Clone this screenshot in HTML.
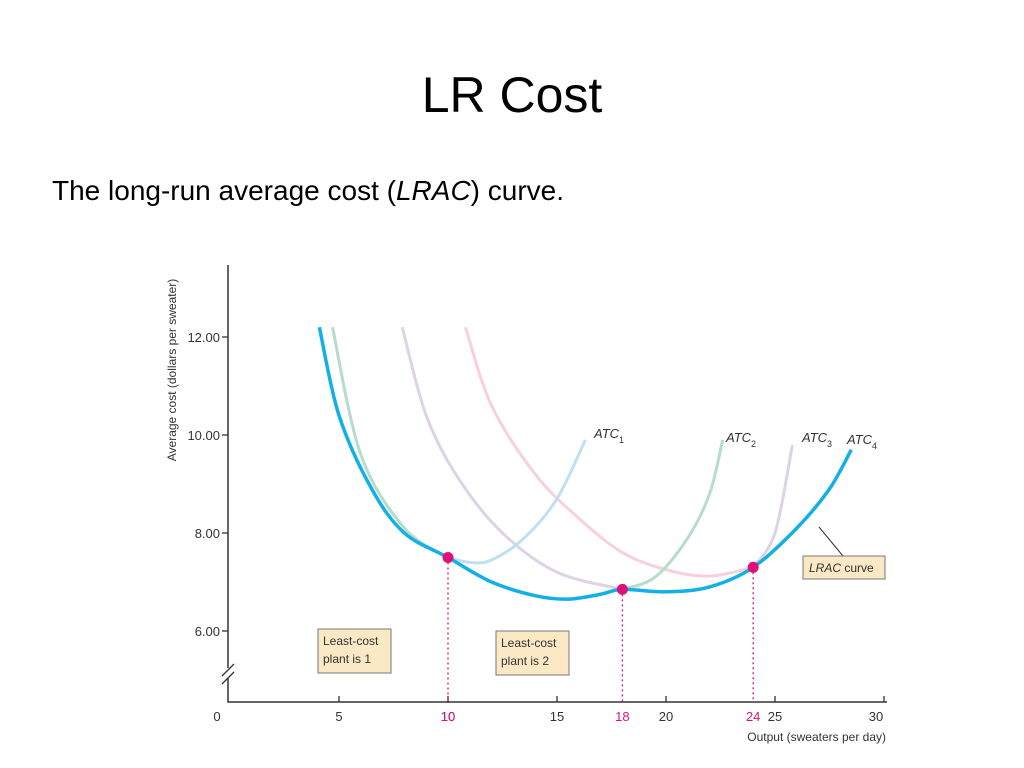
<!DOCTYPE html>
<html><head><meta charset="utf-8"><style>
body{margin:0;width:1024px;height:768px;background:#fff;font-family:"Liberation Sans",sans-serif;overflow:hidden;position:relative}
#title{position:absolute;top:66px;left:0;width:1024px;text-align:center;font-size:50px;color:#000}
#sub{position:absolute;top:175px;left:52px;font-size:28px;color:#000}
svg{position:absolute;left:0;top:0}
svg text{font-family:"Liberation Sans",sans-serif}
</style></head><body>
<div id="title">LR Cost</div>
<div id="sub">The long-run average cost (<i>LRAC</i>) curve.</div>
<svg id="chart" width="1024" height="768"></svg>
<script>
const xTicks=[5,10,15,20,25,30];
const yTicks=[6,8,10,12];
const markX=[10,18,24];
const markY=[7.5,6.85,7.3];
const atc1X=[4.7,6,8,10,11,12,13.5,15,16.3];
const atc1Y=[12.2,9.6,8.1,7.5,7.4,7.45,7.9,8.7,9.9];
const atc2X=[7.9,9,10.5,12.5,15,18,19.5,21,22,22.6];
const atc2Y=[12.2,10.4,9.1,8.0,7.2,6.85,7.1,7.9,8.8,9.9];
const atc3X=[10.8,12,14,16,18,20,22,24,25,25.8];
const atc3Y=[12.2,10.6,9.2,8.3,7.6,7.25,7.12,7.3,8.0,9.8];
const lracX=[4.1,5,6.5,8,10,12,14,15.5,17,18,20,22,24,26,27.5,28.5];
const lracY=[12.2,10.4,8.9,8.0,7.5,7.0,6.72,6.65,6.75,6.85,6.8,6.9,7.3,8.1,8.9,9.7];

const NS="http://www.w3.org/2000/svg";
const svg=document.getElementById('chart');
const X0=230,XS=21.8,Y12=337,YS=49,AXY=702;
const sx=v=>X0+v*XS, sy=v=>Y12+(12-v)*YS;
function el(t,a,txt){const e=document.createElementNS(NS,t);for(const k in a)e.setAttribute(k,a[k]);if(txt!==undefined)e.textContent=txt;svg.appendChild(e);return e;}
function pathD(xs,ys,from,to){
  const p=xs.map((x,i)=>[sx(x),sy(ys[i])]).slice(from,to+1);
  let d='M'+p[0][0]+','+p[0][1];
  for(let i=0;i<p.length-1;i++){
    const p0=p[i-1]||p[i],p1=p[i],p2=p[i+1],p3=p[i+2]||p2;
    const c1=[p1[0]+(p2[0]-p0[0])/6,p1[1]+(p2[1]-p0[1])/6];
    const c2=[p2[0]-(p3[0]-p1[0])/6,p2[1]-(p3[1]-p1[1])/6];
    d+=` C${c1[0]},${c1[1]} ${c2[0]},${c2[1]} ${p2[0]},${p2[1]}`;
  }
  return d;
}
let a=el('path',{d:`M228,265 L228,668 M228,678 L228,${AXY} L887,${AXY}`,stroke:'#333','stroke-width':1.5,fill:'none'});

let br=el('path',{d:`M222,676 L234,664 M222,684 L234,672`,stroke:'#333','stroke-width':1.3,fill:'none'});

yTicks.forEach(v=>{
  el('line',{x1:222,x2:228,y1:sy(v),y2:sy(v),stroke:'#333','stroke-width':1.3});
  const t=el('text',{x:220,y:sy(v)+5,'text-anchor':'end','font-size':13,fill:'#333'},v.toFixed(2));
  
});
let z=el('text',{x:217,y:721,'text-anchor':'middle','font-size':13,fill:'#333'},'0');

xTicks.forEach(v=>{
  el('line',{x1:sx(v),x2:sx(v),y1:AXY-6,y2:AXY,stroke:'#333','stroke-width':1.3});
  const t=el('text',{x:v===30?sx(v)-8:sx(v),y:721,'text-anchor':'middle','font-size':13,fill:'#333'},String(v));
  
});
let xt=el('text',{x:886,y:741,'text-anchor':'end','font-size':12,fill:'#333'},'Output (sweaters per day)');

let yt=el('text',{x:0,y:0,transform:'translate(176,370) rotate(-90)','text-anchor':'middle','font-size':12,fill:'#333'},'Average cost (dollars per sweater)');

markX.forEach((x,i)=>{
  const l=el('line',{x1:sx(x),x2:sx(x),y1:sy(markY[i]),y2:AXY,stroke:'#e0107a','stroke-width':1.3,'stroke-dasharray':'2,3'});
  
  const t=el('text',{x:sx(x),y:721,'text-anchor':'middle','font-size':13,fill:'#e0107a'},String(x));
  
});
function curve(xs,ys,split,c1,c2,name){
  let p=el('path',{d:pathD(xs,ys,0,split),stroke:c1,'stroke-width':3,fill:'none'});
  
  p=el('path',{d:pathD(xs,ys,split,xs.length-1),stroke:c2,'stroke-width':3,fill:'none'});
  
}
curve(atc3X,atc3Y,7,'#f8d0dc','#ddd2e6','atc3-curve');
curve(atc2X,atc2Y,5,'#ddd2e6','#b6dccb','atc2-curve');
curve(atc1X,atc1Y,3,'#b6dccb','#bfe0f2','atc1-curve');
let lr=el('path',{d:pathD(lracX,lracY,0,lracX.length-1),stroke:'#12b0e6','stroke-width':3.5,fill:'none'});

markX.forEach((x,i)=>{
  const c=el('circle',{cx:sx(x),cy:sy(markY[i]),r:5.5,fill:'#e0107a'});
  
});
[['ATC','1',594,438],['ATC','2',726,442],['ATC','3',802,442],['ATC','4',847,444]].forEach(l=>{
  const t=el('text',{x:l[2],y:l[3],'font-size':13,'font-style':'italic',fill:'#333'});
  t.innerHTML=l[0]+'<tspan dy="5" font-size="9" font-style="normal">'+l[1]+'</tspan>';
  
});
let ln=el('line',{x1:819,y1:527,x2:843,y2:556,stroke:'#333','stroke-width':1});

function box(x,y,w,h,lines,name){
  const r=el('rect',{x:x,y:y,width:w,height:h,fill:'#fbe8c4',stroke:'#777','stroke-width':1});
  
  lines.forEach((s,i)=>{const t=el('text',{x:x+5,y:y+16+i*18,'font-size':12,fill:'#333'},s);
  });
}
box(803,556,82,23,[],'lrac-label-box');
let lt=el('text',{x:809,y:572,'font-size':12,fill:'#333'});lt.innerHTML='<tspan font-style="italic">LRAC</tspan> curve';

box(318,629,73,44,['Least-cost','plant is 1'],'plant1-box');
box(496,631,73,44,['Least-cost','plant is 2'],'plant2-box');
</script>
</body></html>
